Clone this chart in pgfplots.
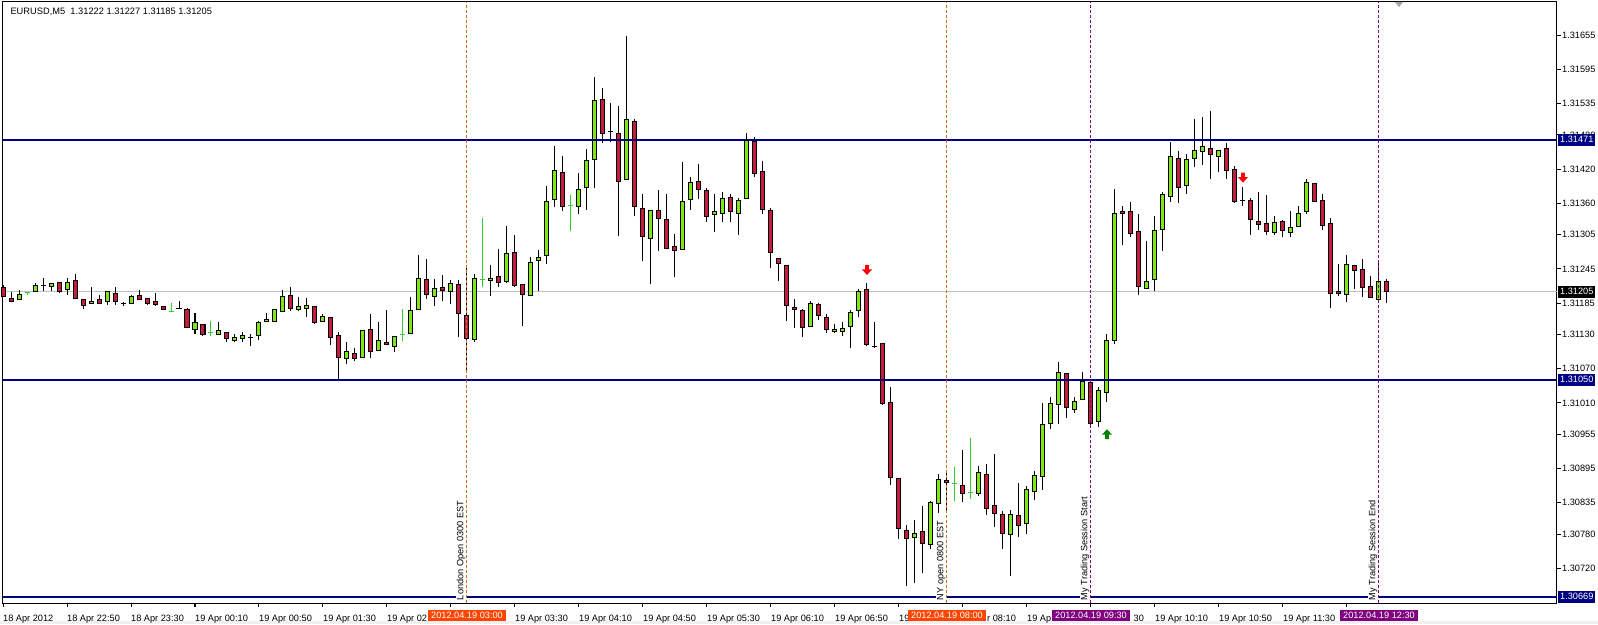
\documentclass[border=0pt]{standalone}
\usepackage{fontspec}
\setmainfont{Liberation Sans}
\usepackage{pgfplots}
\pgfplotsset{compat=1.18}
\usepackage{pgfplotstable}

\definecolor{bullg}{RGB}{127,230,25}
\definecolor{bearr}{RGB}{196,29,60}
\definecolor{dojig}{RGB}{50,205,50}
\definecolor{lvl}{RGB}{0,0,128}
\definecolor{bidline}{RGB}{192,192,192}
\definecolor{sessor}{RGB}{210,105,30}
\definecolor{sesspu}{RGB}{128,0,128}
\definecolor{tagor}{RGB}{255,69,0}
\definecolor{sigup}{RGB}{0,128,0}

\newcommand\mtfont{\fontsize{9.2}{11}\selectfont}

% signal arrows
\pgfdeclareplotmark{sigdown}{%
  \pgfpathmoveto{\pgfqpoint{-1.8pt}{5pt}}%
  \pgfpathlineto{\pgfqpoint{1.8pt}{5pt}}%
  \pgfpathlineto{\pgfqpoint{1.8pt}{0.5pt}}%
  \pgfpathlineto{\pgfqpoint{5pt}{0.5pt}}%
  \pgfpathlineto{\pgfqpoint{0pt}{-5pt}}%
  \pgfpathlineto{\pgfqpoint{-5pt}{0.5pt}}%
  \pgfpathlineto{\pgfqpoint{-1.8pt}{0.5pt}}%
  \pgfpathclose
  \pgfusepathqfill}
\pgfdeclareplotmark{sigup}{%
  \pgfpathmoveto{\pgfqpoint{-1.8pt}{-5pt}}%
  \pgfpathlineto{\pgfqpoint{1.8pt}{-5pt}}%
  \pgfpathlineto{\pgfqpoint{1.8pt}{-0.5pt}}%
  \pgfpathlineto{\pgfqpoint{5pt}{-0.5pt}}%
  \pgfpathlineto{\pgfqpoint{0pt}{5pt}}%
  \pgfpathlineto{\pgfqpoint{-5pt}{-0.5pt}}%
  \pgfpathlineto{\pgfqpoint{-1.8pt}{-0.5pt}}%
  \pgfpathclose
  \pgfusepathqfill}

\pgfplotsset{
  wick/.style={draw=none, mark=none,
    error bars/.cd, y dir=plus, y explicit, error mark=none,
    error bar style={line width=1pt, draw=#1}},
  body/.style 2 args={draw=none, mark=none,
    error bars/.cd, y dir=plus, y explicit, error mark=none,
    error bar style={line width=#2, draw=#1, line cap=butt}},
  cap/.style={only marks, mark=-, mark size=2.5pt, color=#1,
    mark options={line width=1pt}},
}

% EURUSD M5, bar index 0 = 19 Apr 03:00
\pgfplotstableread{
i O H L C
-56 1.31192 1.31208 1.31192 1.31200
-54 1.31206 1.31220 1.31206 1.31216
-53 1.31216 1.31229 1.31207 1.31216
-52 1.31214 1.31221 1.31207 1.31220
-50 1.31208 1.31229 1.31200 1.31221
-47 1.31184 1.31214 1.31183 1.31188
-45 1.31188 1.31206 1.31182 1.31206
-43 1.31184 1.31187 1.31179 1.31184
-42 1.31185 1.31199 1.31185 1.31197
-36 1.31175 1.31188 1.31174 1.31175
-34 1.31139 1.31168 1.31130 1.31151
-31 1.31130 1.31152 1.31130 1.31137
-29 1.31120 1.31130 1.31116 1.31125
-28 1.31123 1.31134 1.31116 1.31128
-27 1.31125 1.31130 1.31109 1.31125
-26 1.31128 1.31153 1.31120 1.31151
-25 1.31153 1.31168 1.31151 1.31157
-24 1.31153 1.31174 1.31153 1.31174
-23 1.31171 1.31208 1.31171 1.31197
-21 1.31174 1.31195 1.31171 1.31179
-20 1.31176 1.31194 1.31161 1.31181
-18 1.31153 1.31166 1.31153 1.31162
-15 1.31088 1.31116 1.31079 1.31100
-13 1.31090 1.31137 1.31088 1.31137
-11 1.31102 1.31152 1.31102 1.31120
-9 1.31109 1.31127 1.31099 1.31127
-7 1.31132 1.31195 1.31132 1.31172
-6 1.31174 1.31269 1.31174 1.31228
-4 1.31197 1.31228 1.31179 1.31211
-2 1.31206 1.31225 1.31183 1.31220
1 1.31121 1.31236 1.31117 1.31228
3 1.31224 1.31251 1.31198 1.31228
5 1.31222 1.31320 1.31221 1.31272
8 1.31199 1.31266 1.31199 1.31256
9 1.31260 1.31278 1.31207 1.31265
10 1.31269 1.31390 1.31254 1.31363
11 1.31367 1.31461 1.31354 1.31418
14 1.31355 1.31413 1.31342 1.31385
15 1.31388 1.31455 1.31349 1.31435
16 1.31437 1.31582 1.31386 1.31541
18 1.31486 1.31536 1.31468 1.31486
20 1.31402 1.31653 1.31402 1.31507
23 1.31299 1.31348 1.31219 1.31347
27 1.31279 1.31432 1.31278 1.31363
28 1.31367 1.31406 1.31349 1.31397
31 1.31341 1.31376 1.31309 1.31346
32 1.31342 1.31379 1.31328 1.31369
34 1.31342 1.31370 1.31304 1.31365
35 1.31369 1.31484 1.31369 1.31470
43 1.31144 1.31188 1.31144 1.31185
46 1.31135 1.31149 1.31132 1.31139
47 1.31135 1.31151 1.31127 1.31141
48 1.31144 1.31172 1.31107 1.31169
49 1.31172 1.31209 1.31160 1.31206
51 1.31109 1.31152 1.31106 1.31109
56 1.30774 1.30804 1.30694 1.30781
58 1.30762 1.30838 1.30753 1.30836
59 1.30833 1.30885 1.30816 1.30876
64 1.30851 1.30899 1.30847 1.30888
68 1.30779 1.30822 1.30707 1.30814
70 1.30799 1.30865 1.30780 1.30858
71 1.30855 1.30890 1.30840 1.30883
72 1.30881 1.31009 1.30858 1.30972
73 1.30974 1.31020 1.30965 1.31009
74 1.31007 1.31082 1.30973 1.31063
76 1.30999 1.31021 1.30993 1.31013
77 1.31016 1.31064 1.31016 1.31048
79 1.30978 1.31038 1.30968 1.31032
80 1.31028 1.31130 1.31011 1.31120
81 1.31120 1.31385 1.31114 1.31342
85 1.31211 1.31294 1.31211 1.31223
86 1.31227 1.31337 1.31207 1.31313
87 1.31314 1.31379 1.31277 1.31376
88 1.31372 1.31467 1.31362 1.31442
90 1.31391 1.31446 1.31377 1.31437
91 1.31439 1.31508 1.31423 1.31453
92 1.31451 1.31511 1.31428 1.31460
94 1.31442 1.31453 1.31414 1.31453
97 1.31365 1.31388 1.31355 1.31365
101 1.31309 1.31337 1.31304 1.31327
103 1.31309 1.31346 1.31300 1.31318
104 1.31320 1.31356 1.31320 1.31342
105 1.31346 1.31402 1.31341 1.31397
110 1.31200 1.31270 1.31187 1.31253
114 1.31191 1.31258 1.31190 1.31223
}\bull

\pgfplotstableread{
i O H L C
-58 1.31213 1.31217 1.31196 1.31197
-57 1.31193 1.31205 1.31187 1.31188
-51 1.31221 1.31221 1.31202 1.31206
-49 1.31224 1.31236 1.31193 1.31193
-48 1.31192 1.31193 1.31175 1.31181
-46 1.31192 1.31199 1.31183 1.31184
-44 1.31202 1.31214 1.31182 1.31188
-41 1.31199 1.31208 1.31192 1.31192
-40 1.31193 1.31193 1.31182 1.31185
-39 1.31188 1.31202 1.31179 1.31182
-38 1.31179 1.31179 1.31174 1.31174
-35 1.31174 1.31176 1.31142 1.31142
-33 1.31148 1.31148 1.31128 1.31130
-30 1.31134 1.31134 1.31116 1.31123
-22 1.31199 1.31214 1.31171 1.31176
-19 1.31179 1.31179 1.31148 1.31151
-17 1.31160 1.31160 1.31111 1.31125
-16 1.31128 1.31134 1.31050 1.31090
-14 1.31097 1.31107 1.31083 1.31088
-12 1.31139 1.31166 1.31088 1.31100
-10 1.31116 1.31172 1.31111 1.31113
-5 1.31227 1.31262 1.31192 1.31200
-3 1.31213 1.31235 1.31188 1.31207
-1 1.31217 1.31226 1.31126 1.31167
0 1.31164 1.31250 1.31066 1.31123
4 1.31232 1.31280 1.31213 1.31221
6 1.31274 1.31304 1.31214 1.31215
7 1.31218 1.31218 1.31145 1.31200
12 1.31414 1.31443 1.31346 1.31354
17 1.31542 1.31563 1.31466 1.31483
19 1.31483 1.31531 1.31303 1.31399
21 1.31504 1.31507 1.31337 1.31355
22 1.31351 1.31376 1.31258 1.31302
24 1.31348 1.31383 1.31277 1.31334
25 1.31332 1.31376 1.31279 1.31281
26 1.31285 1.31307 1.31230 1.31278
29 1.31399 1.31429 1.31367 1.31385
30 1.31383 1.31387 1.31328 1.31337
33 1.31370 1.31376 1.31327 1.31346
36 1.31469 1.31476 1.31406 1.31413
37 1.31416 1.31434 1.31342 1.31349
38 1.31347 1.31351 1.31246 1.31274
39 1.31263 1.31263 1.31223 1.31255
40 1.31251 1.31251 1.31153 1.31181
41 1.31178 1.31192 1.31141 1.31174
42 1.31172 1.31174 1.31125 1.31142
44 1.31182 1.31185 1.31155 1.31164
45 1.31160 1.31165 1.31132 1.31139
50 1.31209 1.31220 1.31109 1.31113
52 1.31114 1.31114 1.31006 1.31009
53 1.31011 1.31038 1.30866 1.30879
54 1.30878 1.30878 1.30772 1.30790
55 1.30786 1.30796 1.30688 1.30772
57 1.30785 1.30829 1.30711 1.30764
60 1.30874 1.30887 1.30822 1.30871
62 1.30865 1.30927 1.30836 1.30851
65 1.30885 1.30903 1.30814 1.30825
66 1.30830 1.30920 1.30793 1.30816
67 1.30814 1.30820 1.30754 1.30781
69 1.30813 1.30869 1.30775 1.30795
75 1.31061 1.31061 1.30983 1.31002
78 1.31046 1.31050 1.30968 1.30974
82 1.31346 1.31356 1.31286 1.31342
83 1.31346 1.31362 1.31301 1.31307
84 1.31311 1.31342 1.31200 1.31214
89 1.31439 1.31451 1.31360 1.31388
93 1.31456 1.31521 1.31402 1.31446
95 1.31456 1.31465 1.31402 1.31418
96 1.31420 1.31425 1.31360 1.31363
98 1.31365 1.31370 1.31304 1.31332
99 1.31328 1.31379 1.31313 1.31323
100 1.31325 1.31374 1.31304 1.31311
102 1.31328 1.31330 1.31300 1.31313
106 1.31395 1.31395 1.31363 1.31363
107 1.31365 1.31376 1.31313 1.31321
108 1.31325 1.31335 1.31176 1.31202
109 1.31206 1.31253 1.31197 1.31202
111 1.31251 1.31251 1.31210 1.31242
112 1.31244 1.31263 1.31195 1.31213
113 1.31214 1.31232 1.31195 1.31195
115 1.31222 1.31227 1.31185 1.31205
}\bear

\pgfplotstableread{
i O H L
-55 1.31203 1.31205 1.31200
-37 1.31171 1.31185 1.31171
-32 1.31134 1.31154 1.31128
-8 1.31130 1.31174 1.31118
2 1.31227 1.31334 1.31214
13 1.31356 1.31374 1.31312
61 1.30869 1.30897 1.30838
63 1.30853 1.30948 1.30841
}\gdoji

\begin{document}
\begin{tikzpicture}[x=1pt,y=1pt]
\path[use as bounding box] (-2,-21) rectangle (1596,603);
\fill[black!6] (-2,-21) rectangle (1596,-18);
\begin{axis}[
  at={(0,0)}, anchor=south west,
  scale only axis, width=1555pt, height=601pt,
  xmin=-58.125, xmax=136.25, ymin=1.30659, ymax=1.31713,
  clip=false,
  axis line style={line width=1pt},
  tick align=outside, major tick length=4pt,
  tick style={black, line width=1pt},
  xtick pos=bottom, ytick pos=right, yticklabel pos=right,
  xtick={-58,-50,...,110},
  % labels cut where the session tags cover them
  xticklabels={18 Apr 2012, 18 Apr 22:50, 18 Apr 23:30, 19 Apr 00:10,
    19 Apr 00:50, 19 Apr 01:30, 19 Apr 02, {}, 19 Apr 03:30,
    19 Apr 04:10, 19 Apr 04:50, 19 Apr 05:30, 19 Apr 06:10, 19 Apr 06:50,
    19, \phantom{19 Ap}r 08:10, 19 Ap, \phantom{19 Apr 09:}30, 19 Apr 10:10,
    19 Apr 10:50, 19 Apr 11:30, {}},
  ytick={1.31655,1.31595,1.31535,1.31480,1.31420,1.31360,1.31305,1.31245,
    1.31185,1.31130,1.31070,1.31010,1.30955,1.30895,1.30835,1.30780,1.30720},
  yticklabels={1.31655,1.31595,1.31535,1.31480,1.31420,1.31360,1.31305,1.31245,
    1.31185,1.31130,1.31070,1.31010,1.30955,1.30895,1.30835,1.30780,1.30720},
  every tick label/.append style={font=\mtfont},
  xticklabel style={anchor=base west, inner sep=0pt, yshift=-15pt},
  yticklabel style={anchor=west, inner sep=0pt, xshift=1pt},
  after end axis/.code={
    \node[font=\fontsize{9.3}{11}\selectfont, anchor=base west] at (rel axis cs:0,1)
      [xshift=5pt, yshift=-13pt] {EURUSD,M5\ \ 1.31222 1.31227 1.31185 1.31205};
    % session tags on the time scale
    \foreach \xx/\tt/\cc in {0/2012.04.19 03:00/tagor, 60/2012.04.19 08:00/tagor,
        78/2012.04.19 09:30/sesspu, 114/2012.04.19 12:30/sesspu}
      \node[font=\mtfont, fill=\cc, text=white, anchor=base, inner xsep=3pt,
        inner ysep=1pt, text height=7pt, text depth=2pt]
        at (axis cs:\xx,1.30659) [yshift=-15pt] {\tt};
    % price tags
    \foreach \yy/\cc in {1.31471/lvl, 1.31050/lvl, 1.30669/lvl, 1.31205/black}
      \node[font=\mtfont, fill=\cc, text=white, anchor=west, inner xsep=2pt,
        inner ysep=1.5pt, text height=7pt, text depth=2pt]
        at (axis cs:136.25,\yy) [xshift=1pt] {\yy};
    % session labels
    \foreach \xx/\tt in {0/London Open 0300 EST, 60/NY open 0800 EST,
        78/My Trading Session Start, 114/My Trading Session End}
      \node[font=\mtfont, rotate=90, anchor=base west, fill=white, inner sep=1pt]
        at (axis cs:\xx-0.45,1.30662) {\tt};
    \fill[black!35] (axis cs:116,1.31713) -- (axis cs:117,1.31713)
      -- (axis cs:116.5,1.31704) -- cycle;
  },
]
% bid line
\addplot[bidline, line width=1pt] coordinates {(-58.125,1.31205) (136.25,1.31205)};

% wicks
\addplot[wick=black] table[x=i, y=L, y error plus expr=\thisrow{H}-\thisrow{L}] {\bull};
\addplot[wick=black] table[x=i, y=L, y error plus expr=\thisrow{H}-\thisrow{L}] {\bear};
\addplot[wick=dojig] table[x=i, y=L, y error plus expr=\thisrow{H}-\thisrow{L}] {\gdoji};

% bodies
\addplot[body={black}{5pt}] table[x=i, y=O, y error plus expr=\thisrow{C}-\thisrow{O}] {\bull};
\addplot[body={bullg}{3pt}] table[x=i, y=O, y error plus expr=\thisrow{C}-\thisrow{O}] {\bull};
\addplot[body={black}{5pt}] table[x=i, y=C, y error plus expr=\thisrow{O}-\thisrow{C}] {\bear};
\addplot[body={bearr}{3pt}] table[x=i, y=C, y error plus expr=\thisrow{O}-\thisrow{C}] {\bear};
\addplot[cap=black] table[x=i, y=O] {\bull};
\addplot[cap=black] table[x=i, y=C] {\bull};
\addplot[cap=black] table[x=i, y=O] {\bear};
\addplot[cap=black] table[x=i, y=C] {\bear};
\addplot[cap=dojig] table[x=i, y=O] {\gdoji};

% levels
\addplot[lvl, line width=2pt] coordinates {(-58.125,1.31471) (136.25,1.31471)};
\addplot[lvl, line width=2pt] coordinates {(-58.125,1.31050) (136.25,1.31050)};
\addplot[lvl, line width=2pt] coordinates {(-58.125,1.30669) (136.25,1.30669)};

% session lines
\addplot[sessor, line width=1pt, dash pattern=on 3pt off 2pt] coordinates {(0,1.30659) (0,1.31713)};
\addplot[sessor, line width=1pt, dash pattern=on 3pt off 2pt] coordinates {(60,1.30659) (60,1.31713)};
\addplot[sesspu, line width=1pt, dash pattern=on 3pt off 2pt] coordinates {(78,1.30659) (78,1.31713)};
\addplot[sesspu, line width=1pt, dash pattern=on 3pt off 2pt] coordinates {(114,1.30659) (114,1.31713)};

% signals
\addplot[red, only marks, mark=sigdown] coordinates {(50,1.31243) (97,1.31405)};
\addplot[sigup, only marks, mark=sigup] coordinates {(80,1.30955)};
\end{axis}
\end{tikzpicture}
\end{document}
